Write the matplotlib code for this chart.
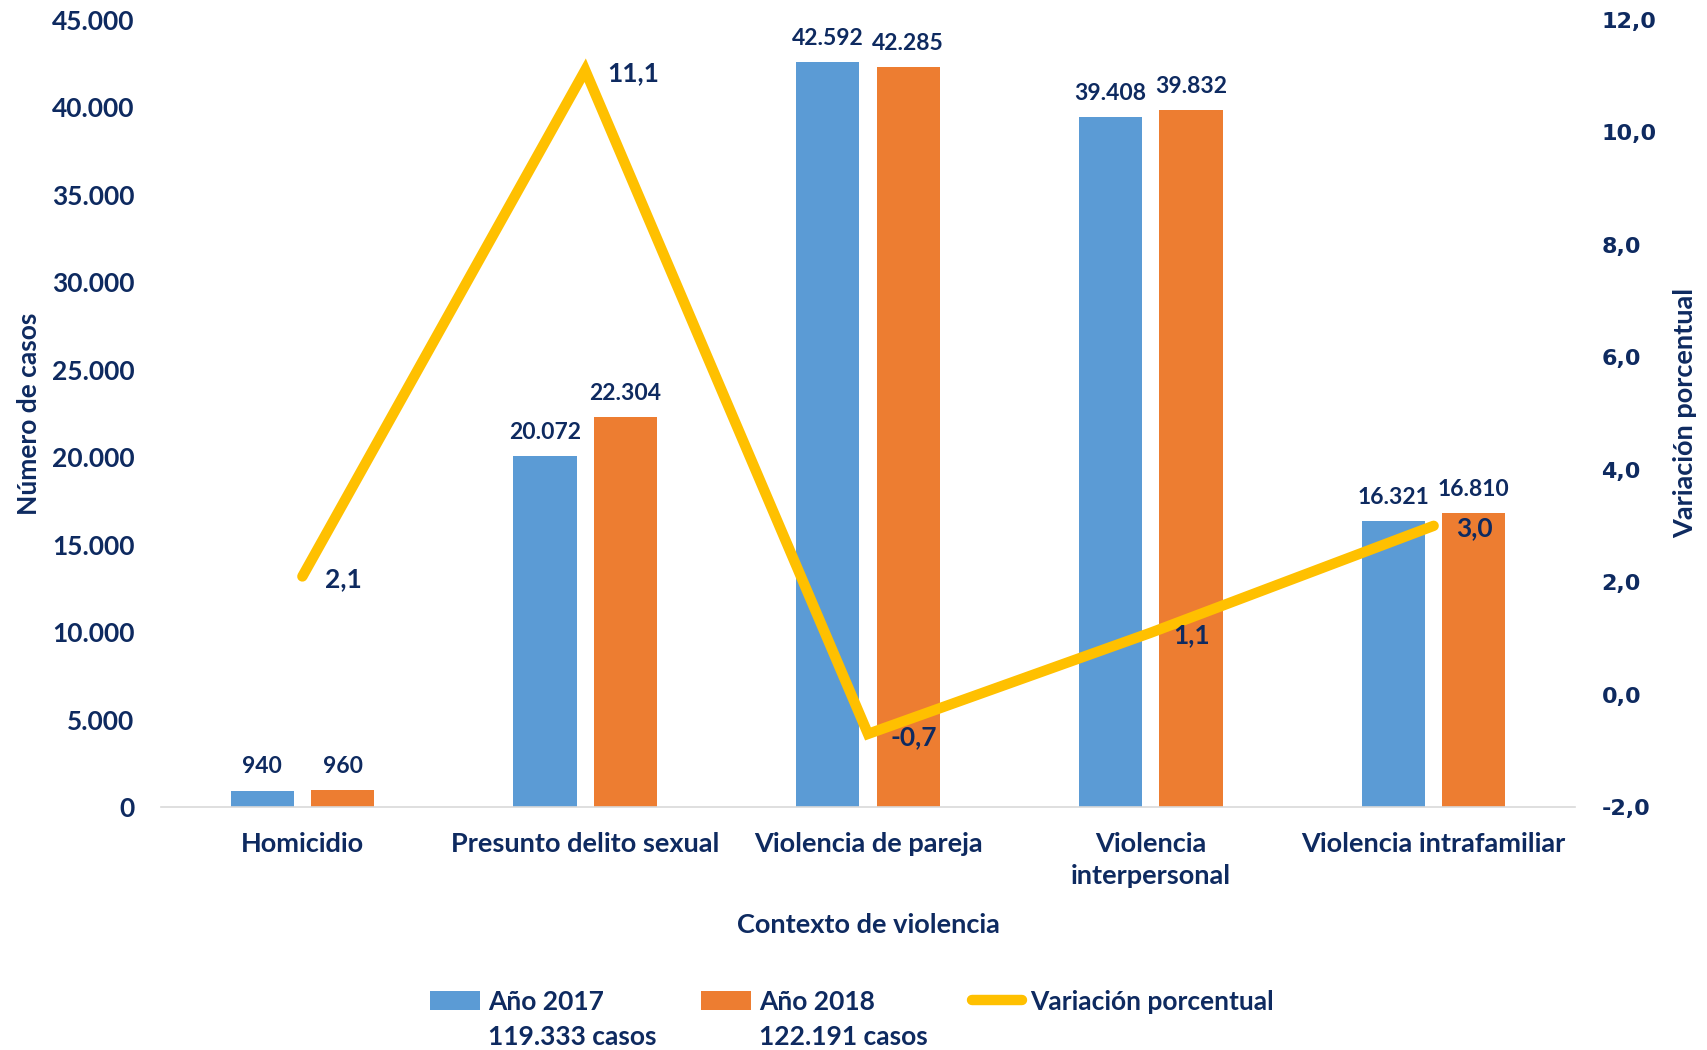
import matplotlib
matplotlib.use('Agg')
import matplotlib.pyplot as plt
import numpy as np

categorias = ['Homicidio', 'Presunto delito sexual', 'Violencia de pareja',
              'Violencia\ninterpersonal', 'Violencia intrafamiliar']
casos_2017 = [940, 20072, 42592, 39408, 16321]
casos_2018 = [960, 22304, 42285, 39832, 16810]
variacion = [2.1, 11.1, -0.7, 1.1, 3.0]
leyenda = ['Año 2017', 'Año 2018', 'Variación porcentual']
totales = ['119.333 casos', '122.191 casos']

AZUL = '#5B9BD5'
NARANJA = '#ED7D31'
AMARILLO = '#FFC000'
TEXTO = '#0E2A60'
FUENTE = ['Lato', 'DejaVu Sans']

plt.rcParams['font.family'] = FUENTE
plt.rcParams['font.weight'] = 'bold'
plt.rcParams['axes.labelweight'] = 'bold'


def miles(v):
    return f'{v:,}'.replace(',', '.')


def decimal(v):
    return f'{v:.1f}'.replace('.', ',')


fig = plt.figure(figsize=(17.07, 10.5), dpi=100)
ax = fig.add_axes([0.0943, 0.2314, 0.8284, 0.7499])
ax2 = ax.twinx()

x = np.arange(len(categorias))
ancho = 0.223
off = 0.142
b1 = ax.bar(x - off, casos_2017, ancho, color=AZUL, label=leyenda[0])
b2 = ax.bar(x + off, casos_2018, ancho, color=NARANJA, label=leyenda[1])

for barras, vals in ((b1, casos_2017), (b2, casos_2018)):
    for r, v in zip(barras, vals):
        ax.annotate(miles(v), (r.get_x() + r.get_width() / 2, v),
                    xytext=(0, 17), textcoords='offset points',
                    ha='center', va='center', fontsize=16.5, color=TEXTO,
                    fontweight='bold')

linea, = ax2.plot(x, variacion, color=AMARILLO, lw=7.5,
                  solid_capstyle='round', solid_joinstyle='miter',
                  label=leyenda[2])
for xi, v in zip(x, variacion):
    ax2.annotate(decimal(v), (xi, v), xytext=(16, -2), textcoords='offset points',
                 ha='left', va='center', fontsize=19, color=TEXTO,
                 fontweight='bold')

ax.set_xlim(-0.5, len(categorias) - 0.5)
ax.set_ylim(0, 45000)
ax.set_yticks(np.arange(0, 45001, 5000))
ax.set_yticklabels([miles(v) for v in range(0, 45001, 5000)])
ax2.set_ylim(-2, 12)
ax2.set_yticks(np.arange(-2, 12.1, 2))
ax2.set_yticklabels([decimal(v) for v in np.arange(-2, 12.1, 2)],
                    family='DejaVu Sans', fontweight='bold')

ax.set_xticks(x)
ax.set_xticklabels(categorias, fontsize=19.5, linespacing=1.4)
ax.tick_params(axis='x', length=0, pad=18, colors=TEXTO)
ax.tick_params(axis='y', length=0, pad=19, colors=TEXTO, labelsize=19)
ax2.tick_params(axis='y', length=0, pad=19, colors=TEXTO, labelsize=16)

for a in (ax, ax2):
    for s in ('top', 'left', 'right'):
        a.spines[s].set_visible(False)
ax2.spines['bottom'].set_visible(False)
ax.spines['bottom'].set_color('#D9D9D9')
ax.spines['bottom'].set_linewidth(1.2)

ax.set_xlabel('Contexto de violencia', fontsize=19.5, color=TEXTO, labelpad=18)
ax.set_ylabel('Número de casos', fontsize=19, color=TEXTO, labelpad=8)
ax2.set_ylabel('Variación porcentual', fontsize=19.5, color=TEXTO, labelpad=12)

leg = fig.legend([b1, b2, linea], leyenda, loc='center left',
                 bbox_to_anchor=(0.252, 0.046), ncol=3, frameon=False,
                 fontsize=19, handlelength=1.9, handletextpad=0.28,
                 columnspacing=3.7, borderaxespad=0, borderpad=0)
for t in leg.get_texts():
    t.set_color(TEXTO)

fig.canvas.draw()
inv = fig.transFigure.inverted()
for t, total in zip(leg.get_texts()[:2], totales):
    bb = t.get_window_extent()
    x0, y0 = inv.transform((bb.x0, bb.y0))
    fig.text(x0, y0 - 0.011, total, ha='left', va='top', fontsize=19,
             color=TEXTO, fontweight='bold')

fig.savefig('out.png', dpi=100)
